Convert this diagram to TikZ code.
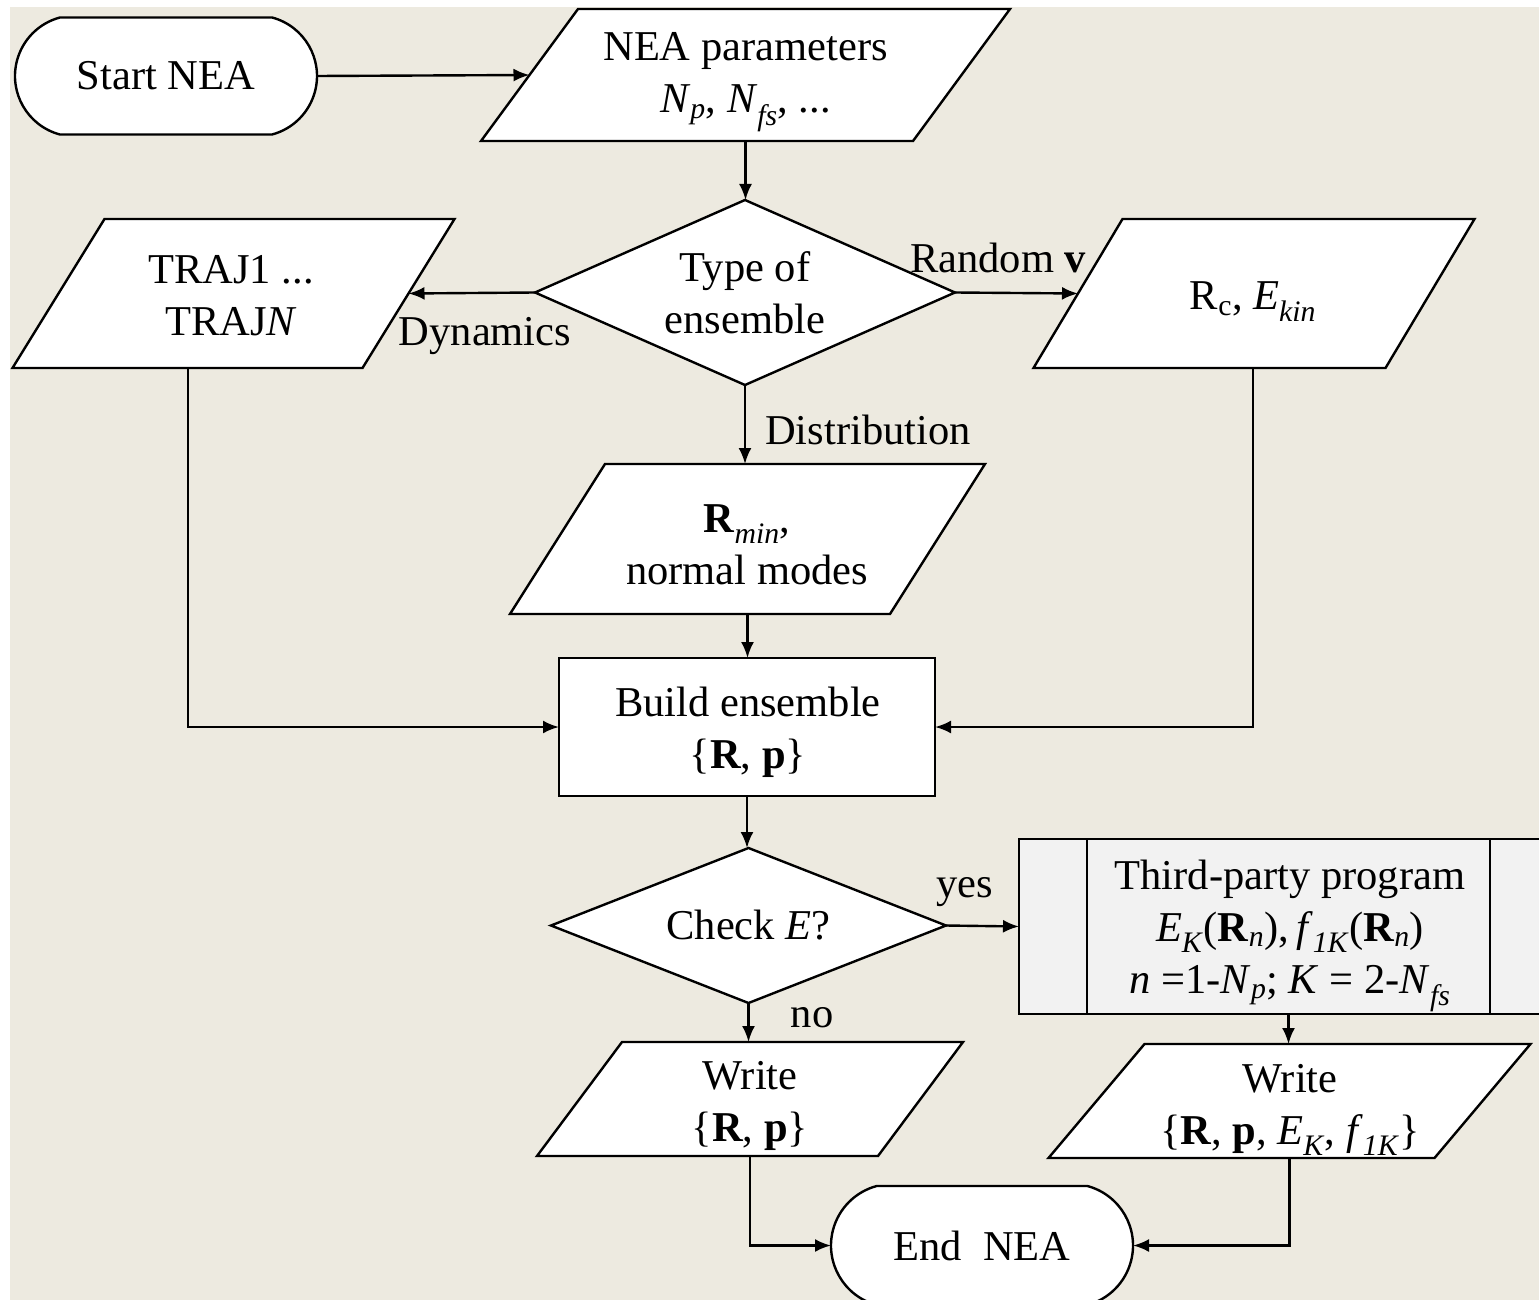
\documentclass[tikz,border=0pt]{standalone}
\usepackage{fontspec}
\setmainfont{Liberation Serif}
\usetikzlibrary{shapes.geometric,shapes.misc,arrows.meta}
\definecolor{bgc}{RGB}{237,234,224}
\definecolor{boxgray}{RGB}{242,242,242}
\newcommand\paragr[6]{%
  \draw[shp] ({#2-#4/2+#6/2},{#3-#5/2}) -- ({#2+#4/2+#6/2},{#3-#5/2}) -- ({#2+#4/2-#6/2},{#3+#5/2}) -- ({#2-#4/2-#6/2},{#3+#5/2}) -- cycle;
  \coordinate (#1-n) at (#2,{#3-#5/2});
  \coordinate (#1-s) at (#2,{#3+#5/2});
  \coordinate (#1-bc) at ({#2-#6/2},{#3+#5/2});
  \coordinate (#1-w) at ({#2-#4/2},#3);
  \coordinate (#1-e) at ({#2+#4/2},#3);
}
\newcommand\myit[1]{\textit{#1}}
\newcommand\mybf[1]{\textbf{#1}}
\newcommand\mysb[1]{\textsubscript{#1}}
\begin{document}
\begin{tikzpicture}[x=1pt,y=-1pt,
  txt/.style={font=\fontsize{42.5}{52}\selectfont, align=center, inner sep=0pt},
  shp/.style={draw=black, line width=2.4pt, fill=white, line join=miter},
  arr/.style={draw=black, line width=2.4pt, -{Latex[length=16pt,width=13pt]}},
  lin/.style={draw=black, line width=2.4pt},
  term/.style={rounded rectangle, rounded rectangle arc length=150, draw=black, line width=2.4pt, fill=white, minimum width=302pt, txt, outer sep=0pt},
  dec/.style={diamond, draw=black, line width=2.4pt, fill=white, txt, outer sep=0pt},
]
\useasboundingbox (0,0) rectangle (1539,1300);
\clip (0,0) rectangle (1539,1300);
\fill[bgc] (10,7) rectangle (1539,1300);

% terminals
\node[term, minimum height=117pt] (start) at (166,76) {Start NEA};
\node[term, minimum height=119pt] (end) at (982,1245.5) {End\ \ NEA};

% parallelograms
\paragr{nea}{745.5}{75}{432}{132}{97}
\node[txt] (neat) at (745.5,82) {NEA parameters\\\myit{N}\mysb{\myit{p}}, \myit{N}\mysb{\myit{fs}}, ...};

\paragr{traj}{233.5}{293.5}{350}{149}{92}
\node[txt] (trajt) at (231,296) {TRAJ1 ...\\TRAJ\myit{N}};

\paragr{rc}{1254}{293.5}{352}{149}{89}
\node[txt] (rct) at (1253,302) {R\mysb{c}, \myit{E}\mysb{\myit{kin}}};

\paragr{rmin}{747.5}{539}{380}{150}{95}
\node[txt] (rmint) at (747,545) {\mybf{R}\mysb{\myit{min}},\\normal modes};

\paragr{wa}{750}{1099}{341}{114}{85}
\node[txt] (wat) at (750,1106) {Write\\\{\mybf{R}, \mybf{p}\}};

\paragr{wb}{1289.5}{1101}{386}{114}{96}
\node[txt] (wbt) at (1290,1110) {Write\\\{\mybf{R}, \mybf{p}, \myit{E}\mysb{\myit{K}}, \myit{f}\mysb{\myit{1K}}\}};

% decisions
\node[dec, aspect=2.27, minimum width=420pt, minimum height=185pt] (type) at (745,292.5) {Type of\\ensemble};
\node[dec, aspect=2.55, minimum width=395pt, minimum height=155pt] (check) at (748.5,925.5) {Check \myit{E}?};

% process boxes
\node[rectangle, draw=black, line width=2.4pt, fill=white, minimum width=376pt, minimum height=138pt, outer sep=0pt, txt] (build) at (747,727) {};
\node[txt] (buildt) at (748,732) {Build ensemble\\\{\mybf{R}, \mybf{p}\}};
\node[rectangle, draw=black, line width=2.4pt, fill=boxgray, minimum width=539pt, minimum height=175pt, outer sep=0pt] (third) at (1288.5,926.5) {};
\draw[lin] ([xshift=68pt]third.north west) -- ([xshift=68pt]third.south west);
\draw[lin] ([xshift=-68pt]third.north east) -- ([xshift=-68pt]third.south east);
\node[txt] (thirdt) at (1290,936) {Third-party program\\\myit{E}\mysb{\myit{K}}(\mybf{R}\mysb{\myit{n}}),\,\myit{f}\mysb{\myit{1K}}(\mybf{R}\mysb{\myit{n}})\\\myit{n} =1-\myit{N}\mysb{\myit{p}}; \myit{K} = 2-\myit{N}\mysb{\myit{fs}}};

% connectors
\coordinate (trajdown) at (188,368);
\coordinate (rcdown) at (1253,368);
\draw[arr] (start.east) -- (nea-w);
\draw[arr] (nea-s) -- (nea-s |- type.north);
\draw[arr] (type.west) -- (traj-e);
\draw[arr] (type.east) -- (rc-w);
\draw[arr] (type.south) -- (type.south |- rmin-n);
\draw[arr] (rmin-s) -- (rmin-s |- build.north);
\draw[arr] (trajdown) |- (build.west);
\draw[arr] (rcdown) |- (build.east);
\draw[arr] (build.south) -- (build.south |- check.north);
\draw[arr] (check.east) -- (third.west);
\draw[arr] (check.south) -- (check.south |- wa-n);
\draw[arr] (third.south) -- (third.south |- wb-n);
\draw[arr] (wa-s) |- (end.west);
\draw[arr] (wb-s) |- (end.east);

% labels
\node[txt] (ldyn) at (485,336) {Dynamics};
\node[txt] (lrand) at (998,258) {Random \mybf{v}};
\node[txt] (ldist) at (868,430) {Distribution};
\node[txt] (lyes) at (965,892) {yes};
\node[txt] (lno) at (812,1018) {no};
\end{tikzpicture}
\end{document}
